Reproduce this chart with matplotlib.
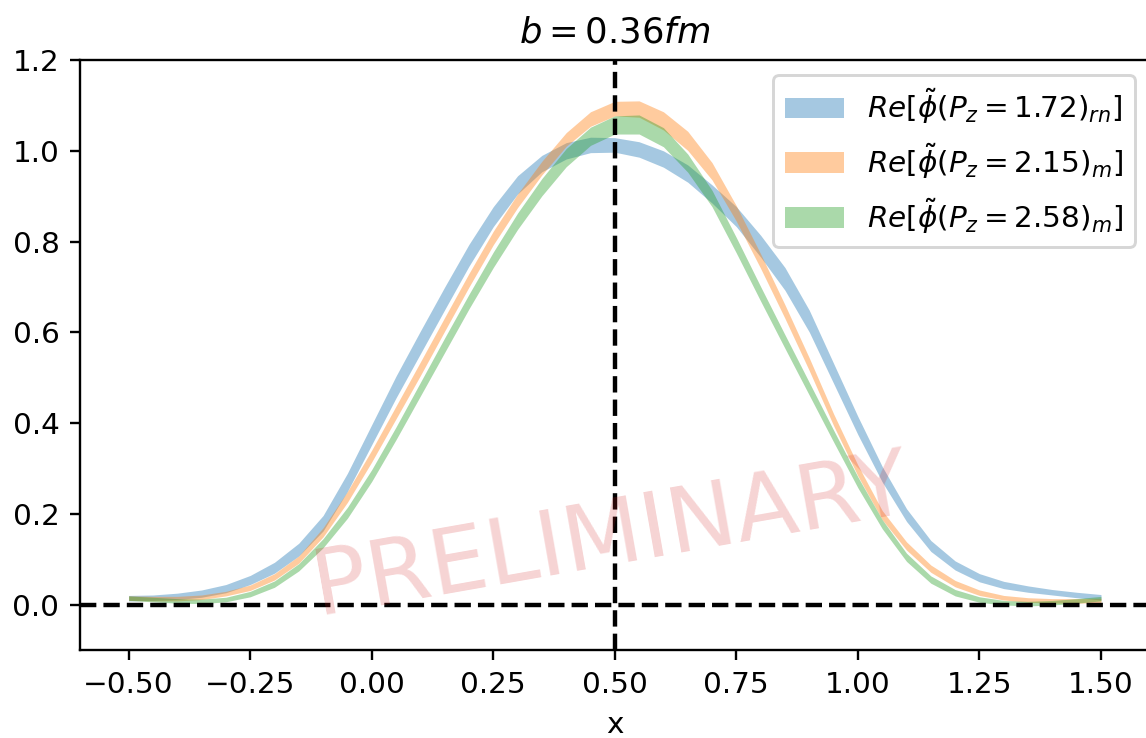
import matplotlib
matplotlib.use("Agg")
import matplotlib.pyplot as plt
import numpy as np

# ---- data ----
x = [-0.50, -0.45, -0.40, -0.35, -0.30, -0.25, -0.20, -0.15, -0.10, -0.05,
     0.00, 0.05, 0.10, 0.15, 0.20, 0.25, 0.30, 0.35, 0.40, 0.45,
     0.50, 0.55, 0.60, 0.65, 0.70, 0.75, 0.80, 0.85, 0.90, 0.95,
     1.00, 1.05, 1.10, 1.15, 1.20, 1.25, 1.30, 1.35, 1.40, 1.45, 1.50]

blue_mid = [0.015, 0.016, 0.019, 0.025, 0.036, 0.055, 0.082, 0.122, 0.180, 0.270,
            0.375, 0.480, 0.578, 0.675, 0.770, 0.855, 0.925, 0.972, 1.000, 1.013,
            1.013, 1.003, 0.982, 0.950, 0.905, 0.855, 0.790, 0.718, 0.625, 0.510,
            0.395, 0.288, 0.198, 0.130, 0.087, 0.060, 0.044, 0.035, 0.028, 0.022, 0.017]
blue_err = [0.006, 0.006, 0.007, 0.008, 0.009, 0.010, 0.012, 0.014, 0.017, 0.020,
            0.022, 0.024, 0.025, 0.025, 0.024, 0.022, 0.020, 0.018, 0.018, 0.017,
            0.016, 0.017, 0.018, 0.019, 0.020, 0.022, 0.024, 0.025, 0.024, 0.022,
            0.020, 0.017, 0.014, 0.012, 0.010, 0.009, 0.008, 0.007, 0.006, 0.006, 0.006]

orange_mid = [0.015, 0.014, 0.014, 0.017, 0.025, 0.038, 0.062, 0.100, 0.160, 0.238,
              0.328, 0.424, 0.520, 0.618, 0.715, 0.808, 0.890, 0.962, 1.025, 1.070,
              1.093, 1.092, 1.066, 1.022, 0.955, 0.862, 0.757, 0.646, 0.530, 0.408,
              0.296, 0.198, 0.130, 0.080, 0.047, 0.027, 0.016, 0.011, 0.009, 0.009, 0.010]
orange_err = [0.005, 0.005, 0.005, 0.005, 0.005, 0.006, 0.007, 0.008, 0.010, 0.012,
              0.013, 0.014, 0.015, 0.015, 0.015, 0.015, 0.015, 0.015, 0.015, 0.016,
              0.016, 0.018, 0.020, 0.021, 0.019, 0.017, 0.016, 0.015, 0.014, 0.013,
              0.012, 0.010, 0.009, 0.008, 0.007, 0.006, 0.005, 0.005, 0.005, 0.005, 0.005]

green_mid = [0.015, 0.012, 0.009, 0.008, 0.012, 0.024, 0.046, 0.083, 0.136, 0.203,
             0.285, 0.378, 0.475, 0.572, 0.668, 0.760, 0.845, 0.920, 0.985, 1.032,
             1.057, 1.058, 1.030, 0.973, 0.895, 0.792, 0.685, 0.580, 0.476, 0.372,
             0.270, 0.178, 0.105, 0.056, 0.027, 0.012, 0.005, 0.003, 0.005, 0.009, 0.014]
green_err = [0.005, 0.005, 0.005, 0.005, 0.005, 0.006, 0.007, 0.008, 0.010, 0.012,
             0.013, 0.014, 0.015, 0.016, 0.016, 0.017, 0.018, 0.019, 0.020, 0.020,
             0.020, 0.021, 0.021, 0.020, 0.018, 0.017, 0.016, 0.015, 0.014, 0.013,
             0.012, 0.010, 0.009, 0.008, 0.007, 0.006, 0.005, 0.005, 0.005, 0.005, 0.005]

labels = [r"$Re[\tilde{\phi}(P_z=1.72)_{rn}]$",
          r"$Re[\tilde{\phi}(P_z=2.15)_{m}]$",
          r"$Re[\tilde{\phi}(P_z=2.58)_{m}]$"]
xticks = [-0.50, -0.25, 0.00, 0.25, 0.50, 0.75, 1.00, 1.25, 1.50]
yticks = [0.0, 0.2, 0.4, 0.6, 0.8, 1.0, 1.2]

# ---- figure ----
DPI = 212
fig = plt.figure(figsize=(1146 / DPI, 738 / DPI), dpi=DPI)
ax = fig.add_axes([80 / 1146, (738 - 650.4) / 738, (1149.6 - 80) / 1146, (650.4 - 60) / 738])

xa = np.array(x)
series = [(blue_mid, blue_err, "C0"), (orange_mid, orange_err, "C1"), (green_mid, green_err, "C2")]
for (mid, err, col), lab in zip(series, labels):
    m = np.array(mid)
    e = np.array(err)
    ax.fill_between(xa, m - e, m + e, color=col, alpha=0.4, lw=0, label=lab)

ax.axhline(0.0, color="k", ls="--", lw=1.5)
ax.axvline(0.5, color="k", ls="--", lw=1.5)

ax.text(0.497, 0.19, "PRELIMINARY", transform=ax.transAxes, ha="center", va="center",
        rotation=10, fontsize=31, color="#d62728", alpha=0.2)

ax.set_xlim(-0.6, 1.6)
ax.set_ylim(-0.1, 1.2)
ax.set_xticks(xticks)
ax.set_yticks(yticks)
ax.set_xlabel("x")
ax.set_title(r"$b=0.36fm$")
ax.legend(loc="upper right")

fig.savefig("out.png", dpi=DPI)
